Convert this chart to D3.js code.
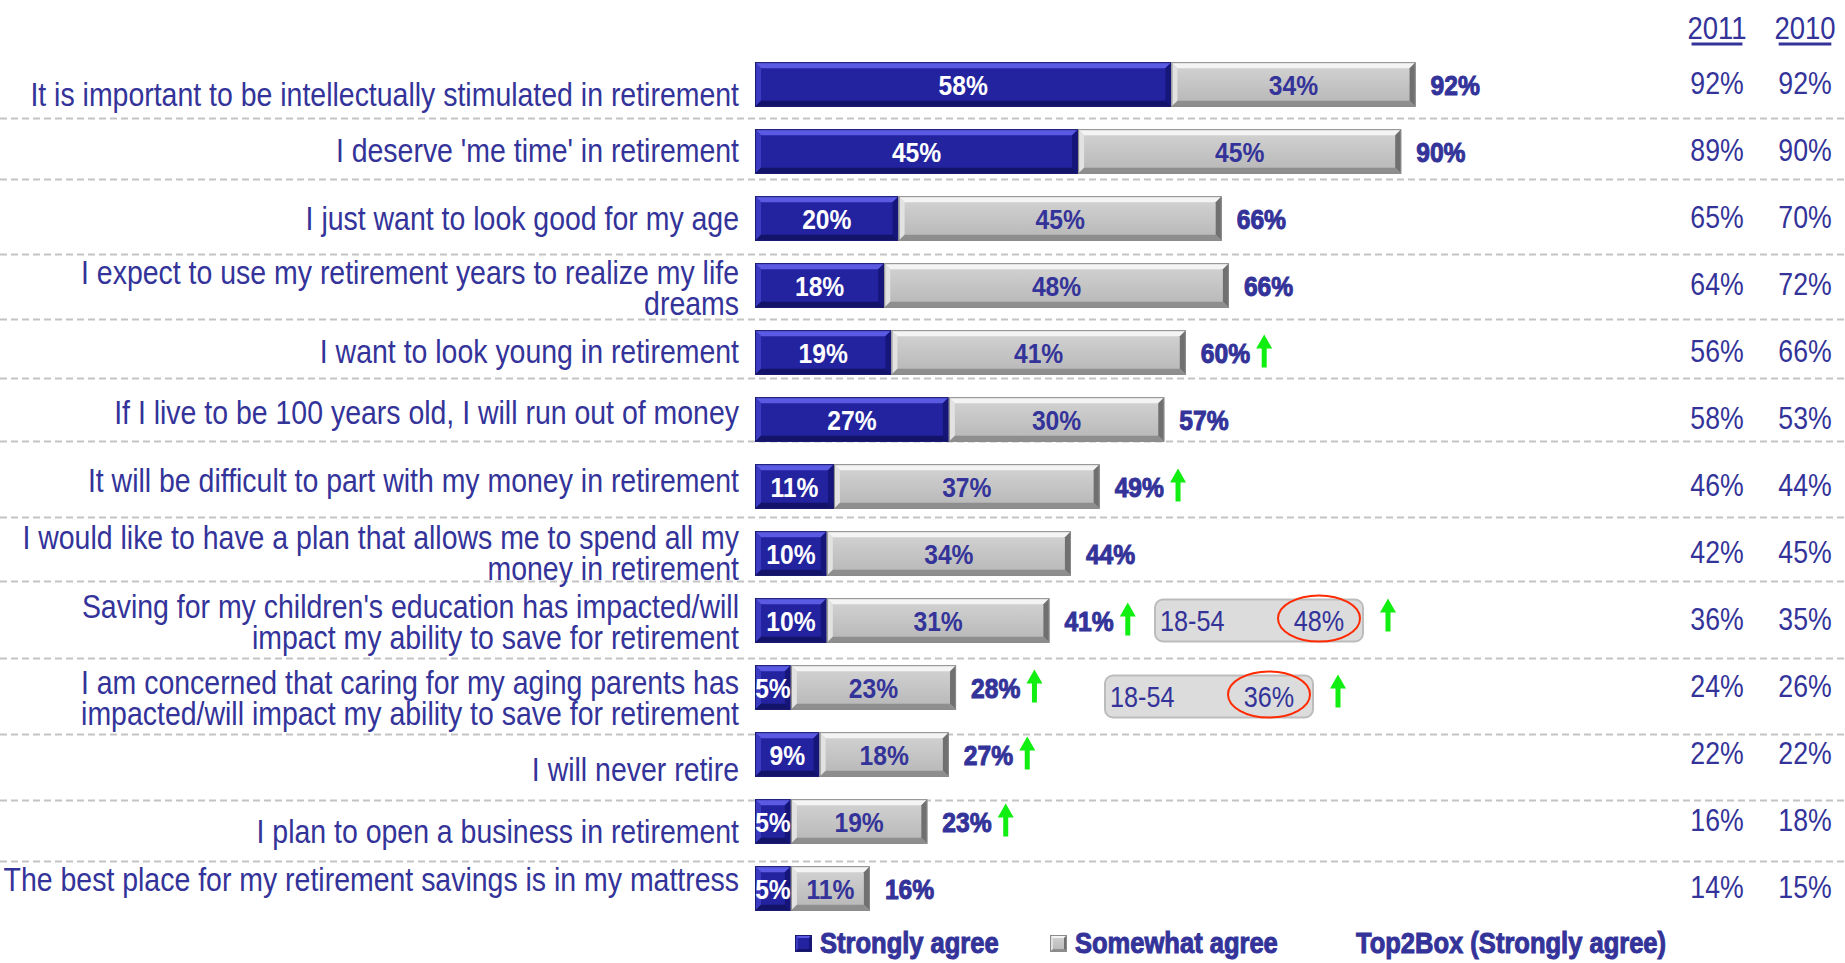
<!DOCTYPE html>
<html>
<head>
<meta charset="utf-8">
<script src="https://cdn.jsdelivr.net/npm/d3@7"></script>
<style>
  body { margin: 0; background: #fff; }
  svg { display: block; }
  text { font-family: "Liberation Sans", Arial, sans-serif; }
</style>
</head>
<body>
<div id="chart"></div>
<script>
// ---- data ----
var categories = [
  "It is important to be intellectually stimulated in retirement",
  "I deserve 'me time' in retirement",
  "I just want to look good for my age",
  "I expect to use my retirement years to realize my life\ndreams",
  "I want to look young in retirement",
  "If I live to be 100 years old, I will run out of money",
  "It will be difficult to part with my money in retirement",
  "I would like to have a plan that allows me to spend all my\nmoney in retirement",
  "Saving for my children's education has impacted/will\nimpact my ability to save for retirement",
  "I am concerned that caring for my aging parents has\nimpacted/will impact my ability to save for retirement",
  "I will never retire",
  "I plan to open a business in retirement",
  "The best place for my retirement savings is in my mattress"
];
var stronglyAgree = [58, 45, 20, 18, 19, 27, 11, 10, 10, 5, 9, 5, 5];
var somewhatAgree = [34, 45, 45, 48, 41, 30, 37, 34, 31, 23, 18, 19, 11];
var top2Box       = [92, 90, 66, 66, 60, 57, 49, 44, 41, 28, 27, 23, 16];
var top2Box2011   = [92, 89, 65, 64, 56, 58, 46, 42, 36, 24, 22, 16, 14];
var top2Box2010   = [92, 90, 70, 72, 66, 53, 44, 45, 35, 26, 22, 18, 15];
var significantUp = [false, false, false, false, true, false, true, false, true, true, true, true, false];
var yearHeaders = ["2011", "2010"];
var callouts = [{row: 8, group: "18-54", value: 48}, {row: 9, group: "18-54", value: 36}];
var legendLabels = ["Strongly agree", "Somewhat agree", "Top2Box (Strongly agree)"];

// ---- layout ----
var W = 1845, H = 963;
var NAVY = "#333399";
var K = 0.88;                     // horizontal squeeze -> condensed look
var labelRight = 739;
var labelNudge = [10, -1, 0, 2, -1, -7, -6, -1, 1, 10, 15, 10, -9];   // label offsets vs bar centre
var ruleGap = [34, 28, 36, 34, 26, 22, 31, 28, 38, 47, 46, 40];        // rule below each row centre
var calloutX = [1155, 1105], calloutDy = [0, 9];
var yearX = [1717, 1805];

var rows = categories.map(function(c, i) {
  return {i: i, label: c, strong: stronglyAgree[i], some: somewhatAgree[i], top: top2Box[i],
          y2011: top2Box2011[i], y2010: top2Box2010[i], up: significantUp[i]};
});

var x = d3.scaleLinear().domain([0, 100]).range([755, 1473]);
var y = d3.scaleBand().domain(d3.range(categories.length)).range([51, 922])
  .paddingInner(0.333).paddingOuter(0.1665);
var bh = y.bandwidth();
function cy(i) { return y(i) + bh / 2; }

var svg = d3.select("#chart").append("svg").attr("width", W).attr("height", H);

// squeeze text horizontally
function squeeze(sel, k) {
  k = k || K;
  sel.each(function() {
    var L = this.getComputedTextLength();
    if (L > 0) {
      this.setAttribute("textLength", L * k);
      this.setAttribute("lengthAdjust", "spacingAndGlyphs");
    }
  });
}

// bevelled box like the PowerPoint 3D bars
var palettes = {
  blue: {face: "#23239f", top: "#5a5ae2", left: "#3b3bc2", right: "#15157a", bottom: "#13136a", edge: "#1a1a70"},
  grey: {face: "url(#greyFace)", top: "#f4f4f4", left: "#e2e2e2", right: "#707070", bottom: "#8e8e8e", edge: "#8a8a8a"}
};
function bevel(g, x0, y0, w, h, kind, b) {
  var p = palettes[kind];
  b = Math.min(b, w / 2);
  var x1 = x0 + w, y1 = y0 + h;
  g.append("rect").attr("x", x0).attr("y", y0).attr("width", w).attr("height", h).attr("fill", p.face);
  var polys = [
    [[x0, y0], [x1, y0], [x1 - b, y0 + b], [x0 + b, y0 + b], p.top],
    [[x0, y0], [x0 + b, y0 + b], [x0 + b, y1 - b], [x0, y1], p.left],
    [[x1, y0], [x1, y1], [x1 - b, y1 - b], [x1 - b, y0 + b], p.right],
    [[x0, y1], [x0 + b, y1 - b], [x1 - b, y1 - b], [x1, y1], p.bottom]
  ];
  polys.forEach(function(q) {
    g.append("path").attr("d", "M" + q.slice(0, 4).map(function(pt) { return pt.join(","); }).join("L") + "Z")
      .attr("fill", q[4]);
  });
  g.append("rect").attr("x", x0 + 0.5).attr("y", y0 + 0.5).attr("width", w - 1).attr("height", h - 1)
    .attr("fill", "none").attr("stroke", p.edge).attr("stroke-width", 1);
}

function upArrow(g, cx, top, h) {
  g.append("path")
    .attr("d", "M" + cx + "," + top + "L" + (cx + 8) + "," + (top + 14) + "L" + (cx + 2.5) + "," + (top + 14) +
      "L" + (cx + 2.5) + "," + (top + h) + "L" + (cx - 2.5) + "," + (top + h) + "L" + (cx - 2.5) + "," + (top + 14) +
      "L" + (cx - 8) + "," + (top + 14) + "Z")
    .attr("fill", "#11ee11");
}

var defs = svg.append("defs");
var gf = defs.append("linearGradient").attr("id", "greyFace").attr("x1", 0).attr("x2", 0).attr("y1", 0).attr("y2", 1);
gf.append("stop").attr("offset", 0).attr("stop-color", "#d4d4d4");
gf.append("stop").attr("offset", 1).attr("stop-color", "#b6b6b6");

// dashed separators
svg.append("g").selectAll("line").data(ruleGap).enter().append("line")
  .attr("x1", 0).attr("x2", W)
  .attr("y1", function(d, i) { return cy(i) + d; })
  .attr("y2", function(d, i) { return cy(i) + d; })
  .attr("stroke", "#c4c4c4").attr("stroke-width", 2).attr("stroke-dasharray", "7,4");

// category labels
var lab = svg.append("g").selectAll("text").data(rows).enter().append("text")
  .attr("text-anchor", "end").attr("fill", NAVY).style("font-size", "34px");
lab.each(function(d) {
  var lines = d.label.split("\n");
  var t = d3.select(this);
  var y0 = cy(d.i) + labelNudge[d.i] - (lines.length - 1) * 30.5 / 2;
  lines.forEach(function(l, k) {
    t.append("tspan").attr("x", labelRight).attr("y", y0 + k * 30.5).attr("dy", "0.35em").text(l);
  });
});
squeeze(lab.selectAll("tspan"), 0.837);

// stacked bars
var bars = svg.append("g");
rows.forEach(function(d) {
  var g = bars.append("g");
  var yTop = y(d.i);
  var segs = [
    {kind: "blue", x0: x(0), x1: x(d.strong), v: d.strong, col: "#ffffff"},
    {kind: "grey", x0: x(d.strong), x1: x(d.strong + d.some), v: d.some, col: NAVY}
  ];
  segs.forEach(function(s, k) {
    bevel(g, s.x0, yTop, s.x1 - s.x0, bh, s.kind, 6);
    var id = "clip" + d.i + "_" + k;
    defs.append("clipPath").attr("id", id).append("rect")
      .attr("x", s.x0).attr("y", yTop).attr("width", s.x1 - s.x0).attr("height", bh);
    var t = g.append("text").attr("clip-path", "url(#" + id + ")")
      .attr("x", (s.x0 + s.x1) / 2).attr("y", cy(d.i)).attr("dy", "0.36em")
      .attr("text-anchor", "middle").attr("fill", s.col)
      .style("font-size", "28px").style("font-weight", "bold")
      .text(s.v + "%");
    squeeze(t);
  });
  // top2box label
  var tx = x(d.strong + d.some) + 15;
  var t2 = g.append("text").attr("x", tx).attr("y", cy(d.i)).attr("dy", "0.36em")
    .attr("fill", NAVY).attr("stroke", NAVY).attr("stroke-width", 1)
    .style("font-size", "28px").style("font-weight", "bold").text(d.top + "%");
  squeeze(t2);
  if (d.up) {
    var end = tx + t2.node().getComputedTextLength() * K;
    upArrow(g, end + 20, cy(d.i) - 18, 33);
  }
});

// year columns
var yr = svg.append("g");
yearHeaders.forEach(function(h, k) {
  var t = yr.append("text").attr("x", yearX[k]).attr("y", 27).attr("dy", "0.36em")
    .attr("text-anchor", "middle").attr("fill", NAVY).style("font-size", "32px").text(h);
  squeeze(t, 0.86);
  var w = t.node().getComputedTextLength() * 0.86;
  yr.append("line").attr("x1", yearX[k] - w / 2).attr("x2", yearX[k] + w / 2)
    .attr("y1", 44).attr("y2", 44).attr("stroke", NAVY).attr("stroke-width", 3);
});
[top2Box2011, top2Box2010].forEach(function(vals, k) {
  var t = yr.selectAll(".v" + k).data(vals).enter().append("text").attr("class", "v" + k)
    .attr("x", yearX[k]).attr("y", function(d, i) { return cy(i) - 2; }).attr("dy", "0.36em")
    .attr("text-anchor", "middle").attr("fill", NAVY).style("font-size", "31px")
    .text(function(d) { return d + "%"; });
  squeeze(t, 0.86);
});

// 18-54 call-outs
callouts.forEach(function(c, k) {
  var g = svg.append("g");
  var bx = calloutX[k], byc = cy(c.row) + calloutDy[k], bw = 208, bhh = 42;
  g.append("rect").attr("x", bx).attr("y", byc - bhh / 2).attr("width", bw).attr("height", bhh)
    .attr("rx", 8).attr("fill", "#dcdcdc").attr("stroke", "#bcbcbc").attr("stroke-width", 2);
  var t1 = g.append("text").attr("x", bx + 5).attr("y", byc).attr("dy", "0.36em")
    .attr("fill", NAVY).style("font-size", "30px").text(c.group);
  squeeze(t1, 0.84);
  var t2 = g.append("text").attr("x", bx + 164).attr("y", byc).attr("dy", "0.36em")
    .attr("text-anchor", "middle").attr("fill", NAVY).style("font-size", "30px").text(c.value + "%");
  squeeze(t2, 0.84);
  g.append("ellipse").attr("cx", bx + 164).attr("cy", byc - 2).attr("rx", 41).attr("ry", 23)
    .attr("fill", "none").attr("stroke", "#ff2a00").attr("stroke-width", 2);
  upArrow(g, bx + bw + 25, byc - 22, 33);
});

// legend
var lg = svg.append("g");
var legX = [795, 1050, 1356], legY = 943;
legendLabels.forEach(function(l, k) {
  var tx = legX[k];
  if (k < 2) {
    bevel(lg, legX[k], legY - 8, 17, 17, k === 0 ? "blue" : "grey", 3);
    tx = legX[k] + 25;
  }
  var t = lg.append("text").attr("x", tx).attr("y", legY).attr("dy", "0.36em")
    .attr("fill", NAVY).attr("stroke", NAVY).attr("stroke-width", 1)
    .style("font-size", "29px").style("font-weight", "bold").text(l);
  squeeze(t);
});
</script>
</body>
</html>
